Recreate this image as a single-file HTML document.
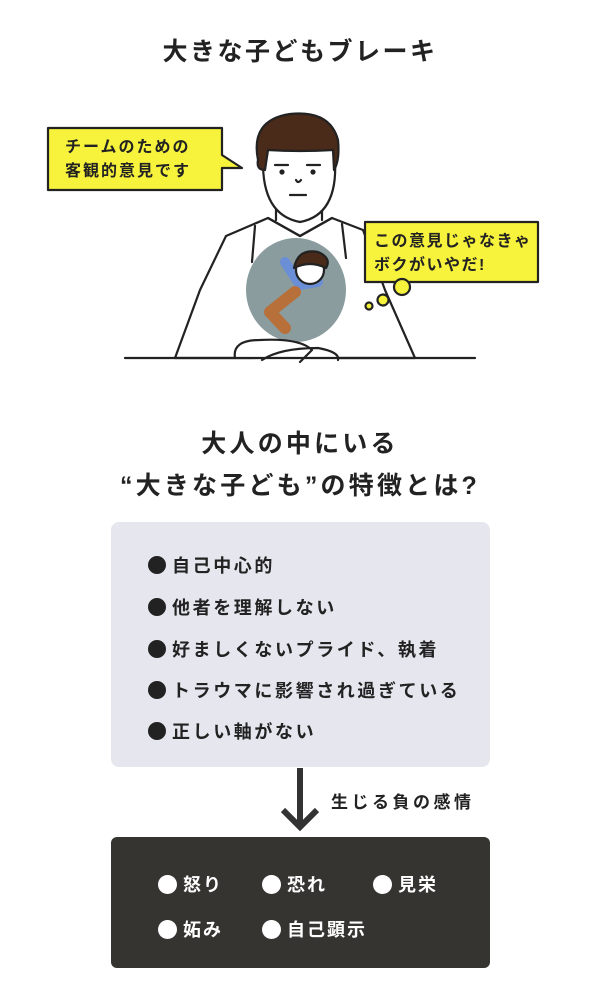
<!DOCTYPE html>
<html><head><meta charset="utf-8"><style>
body{margin:0;width:600px;height:999px;background:#fff;position:relative;overflow:hidden;font-family:"Liberation Sans","Noto Sans CJK JP",sans-serif;color:#222}
.t{position:absolute;font-weight:bold;white-space:nowrap}
.li{position:absolute;left:148px;font-size:18px;font-weight:bold;letter-spacing:2.6px;white-space:nowrap}
.li:before{content:"";display:inline-block;width:18px;height:18px;border-radius:50%;background:#222;margin-right:6px;vertical-align:-2px}
.wi{position:absolute;font-size:18px;font-weight:bold;color:#fff;letter-spacing:2px;white-space:nowrap}
.wi:before{content:"";display:inline-block;width:19px;height:19px;border-radius:50%;background:#fff;margin-right:6px;vertical-align:-3px}
</style></head><body>
<div class="t" style="left:0;width:600px;text-align:center;top:32px;font-size:25px;letter-spacing:2.5px">大きな子どもブレーキ</div>

<svg width="600" height="400" style="position:absolute;left:0;top:0" fill="none" stroke="#222" stroke-width="2.2" stroke-linejoin="round" stroke-linecap="round">
<!-- body -->
<path d="M226 236 L268 218 L300 236 L332 218 L363 230 L385 290 L415 358 L175 358 L200 290 Z" fill="#fff"/>
<path d="M255 226 L252 262 M342 224 L346 258"/>
<path d="M268 218 L300 236 L332 218"/>
<!-- neck -->
<path d="M276 205 L276 220 M322 205 L322 220"/>
<!-- face -->
<path d="M263 160 Q262 215 300 222 Q338 215 335 160" fill="#fff"/>
<path d="M258 160 Q250 120 290 114 Q330 110 338 140 Q340 160 334 170 L333 150 Q300 152 268 150 L265 170 Q256 170 258 160 Z" fill="#4a2a18"/>
<path d="M275 165 L288 165 M307 165 L320 165"/>
<circle cx="282" cy="172" r="1.5" fill="#222"/><circle cx="313" cy="172" r="1.5" fill="#222"/>
<path d="M296 180 Q298 184 301 180 M290 195 L306 195"/>
<!-- child blob -->
<ellipse cx="296" cy="290" rx="50" ry="52" fill="#8a9c9e" stroke="none"/>
<path d="M285 262 L300 285 L318 282" stroke="#6a8fd6" stroke-width="10"/>
<path d="M295 292 L270 312 L285 328" stroke="#b8703a" stroke-width="12"/>
<circle cx="310" cy="270" r="14" fill="#fff"/>
<path d="M294 268 Q298 248 318 252 Q332 258 326 268 Q310 260 294 268Z" fill="#4a2a18"/>
<!-- hands -->
<path d="M235 358 Q232 340 260 340 Q300 338 312 350 L300 362 M262 360 Q280 348 318 348 Q340 352 338 360" fill="#fff"/>
<path d="M125 358 L475 358"/>
<!-- left bubble -->
<path d="M48 128 L222 128 L222 155 L242 168 L222 168 L222 190 L48 190 Z" fill="#f7f23c"/>
<!-- right bubble -->
<rect x="365" y="222" width="173" height="60" fill="#f7f23c"/>
<circle cx="402" cy="287" r="8" fill="#f7f23c"/><circle cx="383" cy="300" r="5.5" fill="#f7f23c"/><circle cx="369" cy="306" r="3.5" fill="#f7f23c"/>
</svg>
<div class="t" style="left:65px;top:136px;font-size:16px;line-height:24px;letter-spacing:2px">チームのための<br>客観的意見です</div>
<div class="t" style="left:374px;top:230px;font-size:16px;line-height:24px;letter-spacing:1.5px">この意見じゃなきゃ<br>ボクがいやだ!</div>

<div class="t" style="left:0;width:600px;text-align:center;top:423px;font-size:25px;line-height:42px;letter-spacing:3.2px">大人の中にいる<br>“大きな子ども”の特徴とは?</div>

<div style="position:absolute;left:111px;top:522px;width:379px;height:245px;background:#e6e6ee;border-radius:8px"></div>
<div class="li" style="top:552px">自己中心的</div>
<div class="li" style="top:594px">他者を理解しない</div>
<div class="li" style="top:636px">好ましくないプライド、執着</div>
<div class="li" style="top:677px">トラウマに影響され過ぎている</div>
<div class="li" style="top:718px">正しい軸がない</div>

<svg width="600" height="999" style="position:absolute;left:0;top:0" fill="none" stroke="#333" stroke-width="6">
<path d="M300 768 L300 826 M283 810 L300 827 L317 810"/>
</svg>
<div class="t" style="left:331px;top:788px;font-size:17px;letter-spacing:3.5px">生じる負の感情</div>

<div style="position:absolute;left:111px;top:837px;width:379px;height:131px;background:#363430;border-radius:6px"></div>
<div class="wi" style="left:158px;top:871px">怒り</div>
<div class="wi" style="left:262px;top:871px">恐れ</div>
<div class="wi" style="left:373px;top:871px">見栄</div>
<div class="wi" style="left:158px;top:916px">妬み</div>
<div class="wi" style="left:262px;top:916px">自己顕示</div>
</body></html>
